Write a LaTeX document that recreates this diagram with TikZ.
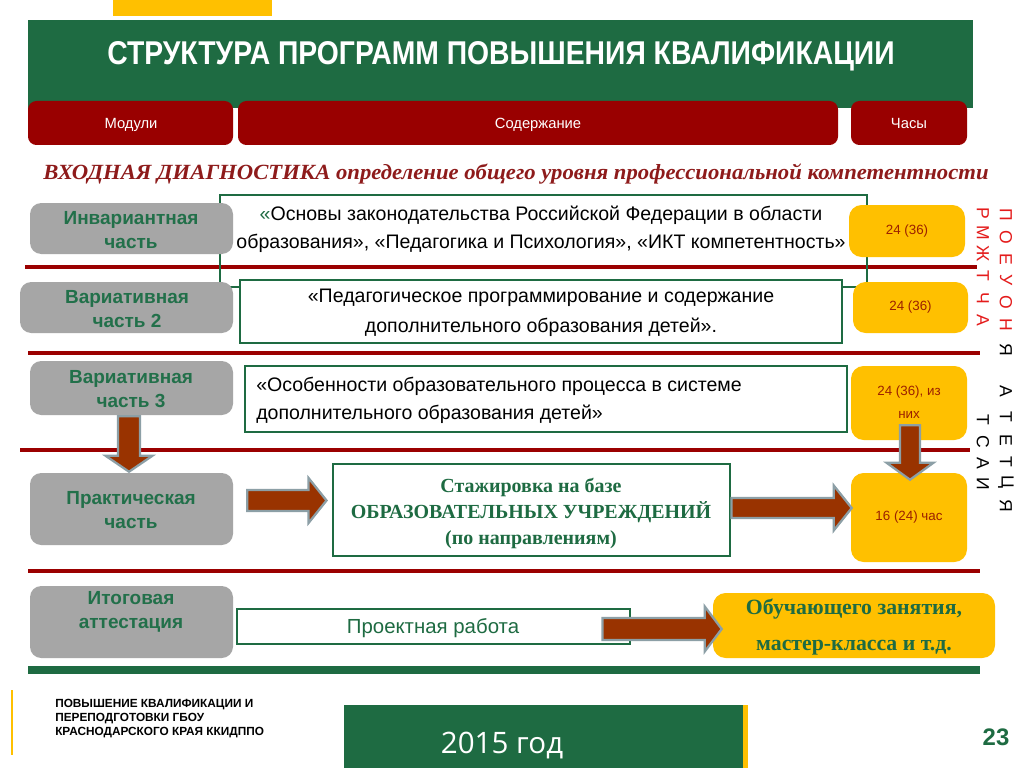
\documentclass[tikz,border=0pt]{standalone}
\usepackage{fontspec}
\setmainfont{Liberation Sans}
\newfontfamily\serifrm{Liberation Serif}
\newfontfamily\opensans{Open Sans}
\usetikzlibrary{fit,calc}
\definecolor{hdrgreen}{HTML}{1E6B42}
\definecolor{tabred}{HTML}{990000}
\definecolor{linered}{HTML}{9B0000}
\definecolor{boxgray}{HTML}{A6A6A6}
\definecolor{txtgreen}{HTML}{22704A}
\definecolor{yell}{HTML}{FFC000}
\definecolor{arrbrown}{HTML}{993300}
\definecolor{arrline}{HTML}{8C9FA6}
\definecolor{headred}{HTML}{8E1B1B}
\definecolor{vred}{HTML}{E41B1B}
\definecolor{ytext}{HTML}{9B2000}
\tikzset{
  tabbox/.style={inner sep=0pt, fill=tabred, rounded corners=6pt},
  tabtext/.style={text=white, inner sep=0pt, font=\fontsize{10.5}{12}\selectfont},
  graybox/.style={inner sep=0pt, fill=boxgray, rounded corners=8pt},
  graytext/.style={text=txtgreen, font=\bfseries\fontsize{13.5}{17.5}\selectfont, align=center, inner sep=0pt},
  greenbox/.style={inner sep=0pt, draw=hdrgreen, line width=2.1pt, fill=white},
  greenframe/.style={inner sep=0pt, draw=hdrgreen, line width=2.1pt},
  yelbox/.style={inner sep=0pt, fill=yell, rounded corners=9pt},
  yeltext/.style={text=ytext, font=\fontsize{9.5}{16}\selectfont, align=center, inner sep=0pt},
  redline/.style={draw=linered, line width=3pt},
  barrow/.style={fill=arrbrown, draw=arrline, line width=1.6pt, line join=miter},
  vlet/.style={rotate=-90, inner sep=0pt, font=\fontsize{12.5}{12.5}\selectfont},
}
\newcommand\rarrow[5]{%
  \draw[barrow] ($(#1)+(0,-#3)$) -- ($(#2)+(-#5,-#3)$) -- ($(#2)+(-#5,-#4)$) -- (#2)
    -- ($(#2)+(-#5,#4)$) -- ($(#2)+(-#5,#3)$) -- ($(#1)+(0,#3)$) -- cycle;}
\newcommand\darrow[5]{%
  \draw[barrow] ($(#1)+(-#3,0)$) -- ($(#2)+(-#3,-#5)$) -- ($(#2)+(-#4,-#5)$) -- (#2)
    -- ($(#2)+(#4,-#5)$) -- ($(#2)+(#3,-#5)$) -- ($(#1)+(#3,0)$) -- cycle;}
\begin{document}
\begin{tikzpicture}[x=0.025cm,y=-0.025cm]
\useasboundingbox (0,0) rectangle (1024,768);
\fill[white] (0,0) rectangle (1024,768);
% header
\fill[yell] (113,0) rectangle (272,16);
\node[inner sep=0pt, fill=hdrgreen, fit={(28,20)(973,108)}] (hdr) {};
\node[anchor=base, text=white, inner sep=0pt] (title) at (501,65)
  {\resizebox{19.675cm}{0.575cm}{\bfseries СТРУКТУРА ПРОГРАММ ПОВЫШЕНИЯ КВАЛИФИКАЦИИ}};
\node[tabbox, fit={(28,101)(233,145)}] (tmod) {};
\node[tabbox, fit={(238,101)(838,145)}] (tsod) {};
\node[tabbox, fit={(851,101)(967,145)}] (tch) {};
\node[tabtext, anchor=base] at (131,129) {Модули};
\node[tabtext, anchor=base] at (538,129) {Содержание};
\node[tabtext, anchor=base] at (909,129) {Часы};
% heading
\node[anchor=base west, inner sep=0pt, text=headred] (diag) at (43,180)
  {\resizebox{23.625cm}{0.39cm}{\serifrm\bfseries\itshape ВХОДНАЯ ДИАГНОСТИКА определение общего уровня профессиональной компетентности}};
% red separator lines
\draw[redline] (25,267) -- (977,267);
\draw[redline] (28,353) -- (980,353);
\draw[redline] (20,450) -- (970,450);
\draw[redline, line width=2.4pt] (28,571) -- (980,571);
\draw[draw=hdrgreen, line width=5.5pt] (28,670) -- (980,670);
% content boxes
\node[greenframe, fit={(220,195)(867,287)}] (c1) {};
\node[align=center, inner sep=0pt, font=\fontsize{13.9}{20}\selectfont] (c1t) at (541,229)
  {\textcolor{hdrgreen}{«}Основы законодательства Российской Федерации в области\\образования», «Педагогика и Психология», «ИКТ компетентность»};
\node[greenbox, fit={(240,280)(842,343)}] (c2) {};
\node[align=center, inner sep=0pt, font=\fontsize{13.9}{21}\selectfont] (c2t) at (541,313)
  {«Педагогическое программирование и содержание\\дополнительного образования детей».};
\node[greenbox, fit={(245,366)(847,432)}] (c3) {};
\node[align=left, anchor=west, inner sep=0pt, font=\fontsize{13.9}{20}\selectfont] (c3t) at (256,400)
  {«Особенности образовательного процесса в системе\\дополнительного образования детей»};
\node[greenbox, fit={(333,464)(730,556)}] (staj) {};
\node[align=center, inner sep=0pt, text=hdrgreen, font=\serifrm\bfseries\fontsize{14.2}{18.5}\selectfont] (stajt) at (531,513)
  {Стажировка на базе\\ОБРАЗОВАТЕЛЬНЫХ УЧРЕЖДЕНИЙ\\(по направлениям)};
\node[greenbox, fit={(237,609)(630,644)}] (proj) {};
\node[inner sep=0pt, text=hdrgreen, font=\fontsize{14.5}{16}\selectfont] (projt) at (433,628) {Проектная работа};
% module boxes
\node[graybox, fit={(30,203)(233,254)}] (inv) {};
\node[graytext] at (131,230) {Инвариантная\\часть};
\node[graybox, fit={(20,282)(233,333)}] (var2) {};
\node[graytext] at (127,309) {Вариативная\\часть 2};
\node[graybox, fit={(30,361)(233,415)}] (var3) {};
\node[graytext] at (131,389) {Вариативная\\часть 3};
\node[graybox, fit={(30,473)(233,545)}] (prak) {};
\node[graytext] at (131,510) {Практическая\\часть};
\node[graybox, fit={(30,586)(233,658)}] (itog) {};
\node[graytext] at (131,612) {Итоговая\\аттестация};
% hours
\node[yelbox, fit={(849,205)(965,257)}] (h1) {};
\node[yeltext] at (h1) {24 (36)};
\node[yelbox, fit={(853,282)(968,333)}] (h2) {};
\node[yeltext] at (h2) {24 (36)};
\node[yelbox, fit={(851,366)(967,440)}] (h3) {};
\node[yeltext] at (909,402) {24 (36), из\\них};
\node[yelbox, fit={(851,473)(967,562)}] (h16) {};
\node[yeltext] at (h16) {16 (24) час};
\node[yelbox, fit={(713,593)(995,658)}] (obuch) {};
\node[align=center, inner sep=0pt, text=hdrgreen, font=\serifrm\bfseries\fontsize{15.5}{25}\selectfont] at (854,627)
  {Обучающего занятия,\\мастер-класса и т.д.};
% arrows
\coordinate (a1s) at ($(prak.east)+(14,-8.5)$);
\coordinate (a1t) at ($(staj.west)+(-5,-9.5)$);
\rarrow{a1s}{a1t}{10.5}{22.5}{18}
\coordinate (a2s) at ($(staj.east)+(0,-2)$);
\coordinate (a2t) at ($(h16.west)+(1,-9.5)$);
\rarrow{a2s}{a2t}{10}{22.5}{18}
\coordinate (a3s) at ($(proj.east)+(-29,2.5)$);
\coordinate (a3t) at ($(obuch.west)+(9,3.5)$);
\rarrow{a3s}{a3t}{11}{22.5}{17}
\coordinate (a4s) at ($(var3.south)+(-2.5,1)$);
\coordinate (a4t) at ($(prak.north)+(-2.5,-1)$);
\darrow{a4s}{a4t}{11}{23.5}{16}
\coordinate (a5s) at ($(h3.south)+(1,-15)$);
\coordinate (a5t) at ($(h16.north)+(1,7)$);
\darrow{a5s}{a5t}{10}{23.5}{17}
% vertical text
\foreach \l/\yy in {П/215,О/237,Е/259,У/280,О/302,Н/325}
  \node[vlet, text=vred] at (1006,\yy) {\l};
\node[vlet] at (1006,350) {Я};
\foreach \l/\yy in {Р/213,М/233,Ж/254,Т/276,Ч/298,А/320}
  \node[vlet, text=vred] at (983,\yy) {\l};
\foreach \l/\yy in {А/391,Т/417,Е/440,Т/462,Ц/482,Я/506}
  \node[vlet] at (1006,\yy) {\l};
\foreach \l/\yy in {Т/420,С/442,А/463,И/484}
  \node[vlet] at (983,\yy) {\l};
% footer
\draw[draw=yell, line width=1.2pt] (12,690) -- (12,755);
\node[anchor=north west, align=left, inner sep=0pt, font=\bfseries\fontsize{8.4}{9.8}\selectfont] (foot) at (55,699)
  {ПОВЫШЕНИЕ КВАЛИФИКАЦИИ И\\ПЕРЕПОДГОТОВКИ ГБОУ\\КРАСНОДАРСКОГО КРАЯ ККИДППО};
\node[inner sep=0pt, fill=hdrgreen, fit={(344,705)(743,768)}] (year) {};
\fill[yell] (743,705) rectangle (748,768);
\node[text=white, inner sep=0pt, font=\opensans\fontsize{21}{24}\selectfont] at (502,746) {2015 год};
\node[text=hdrgreen, inner sep=0pt, font=\bfseries\fontsize{17}{20}\selectfont] (pg) at (996,737) {23};
\end{tikzpicture}
\end{document}
